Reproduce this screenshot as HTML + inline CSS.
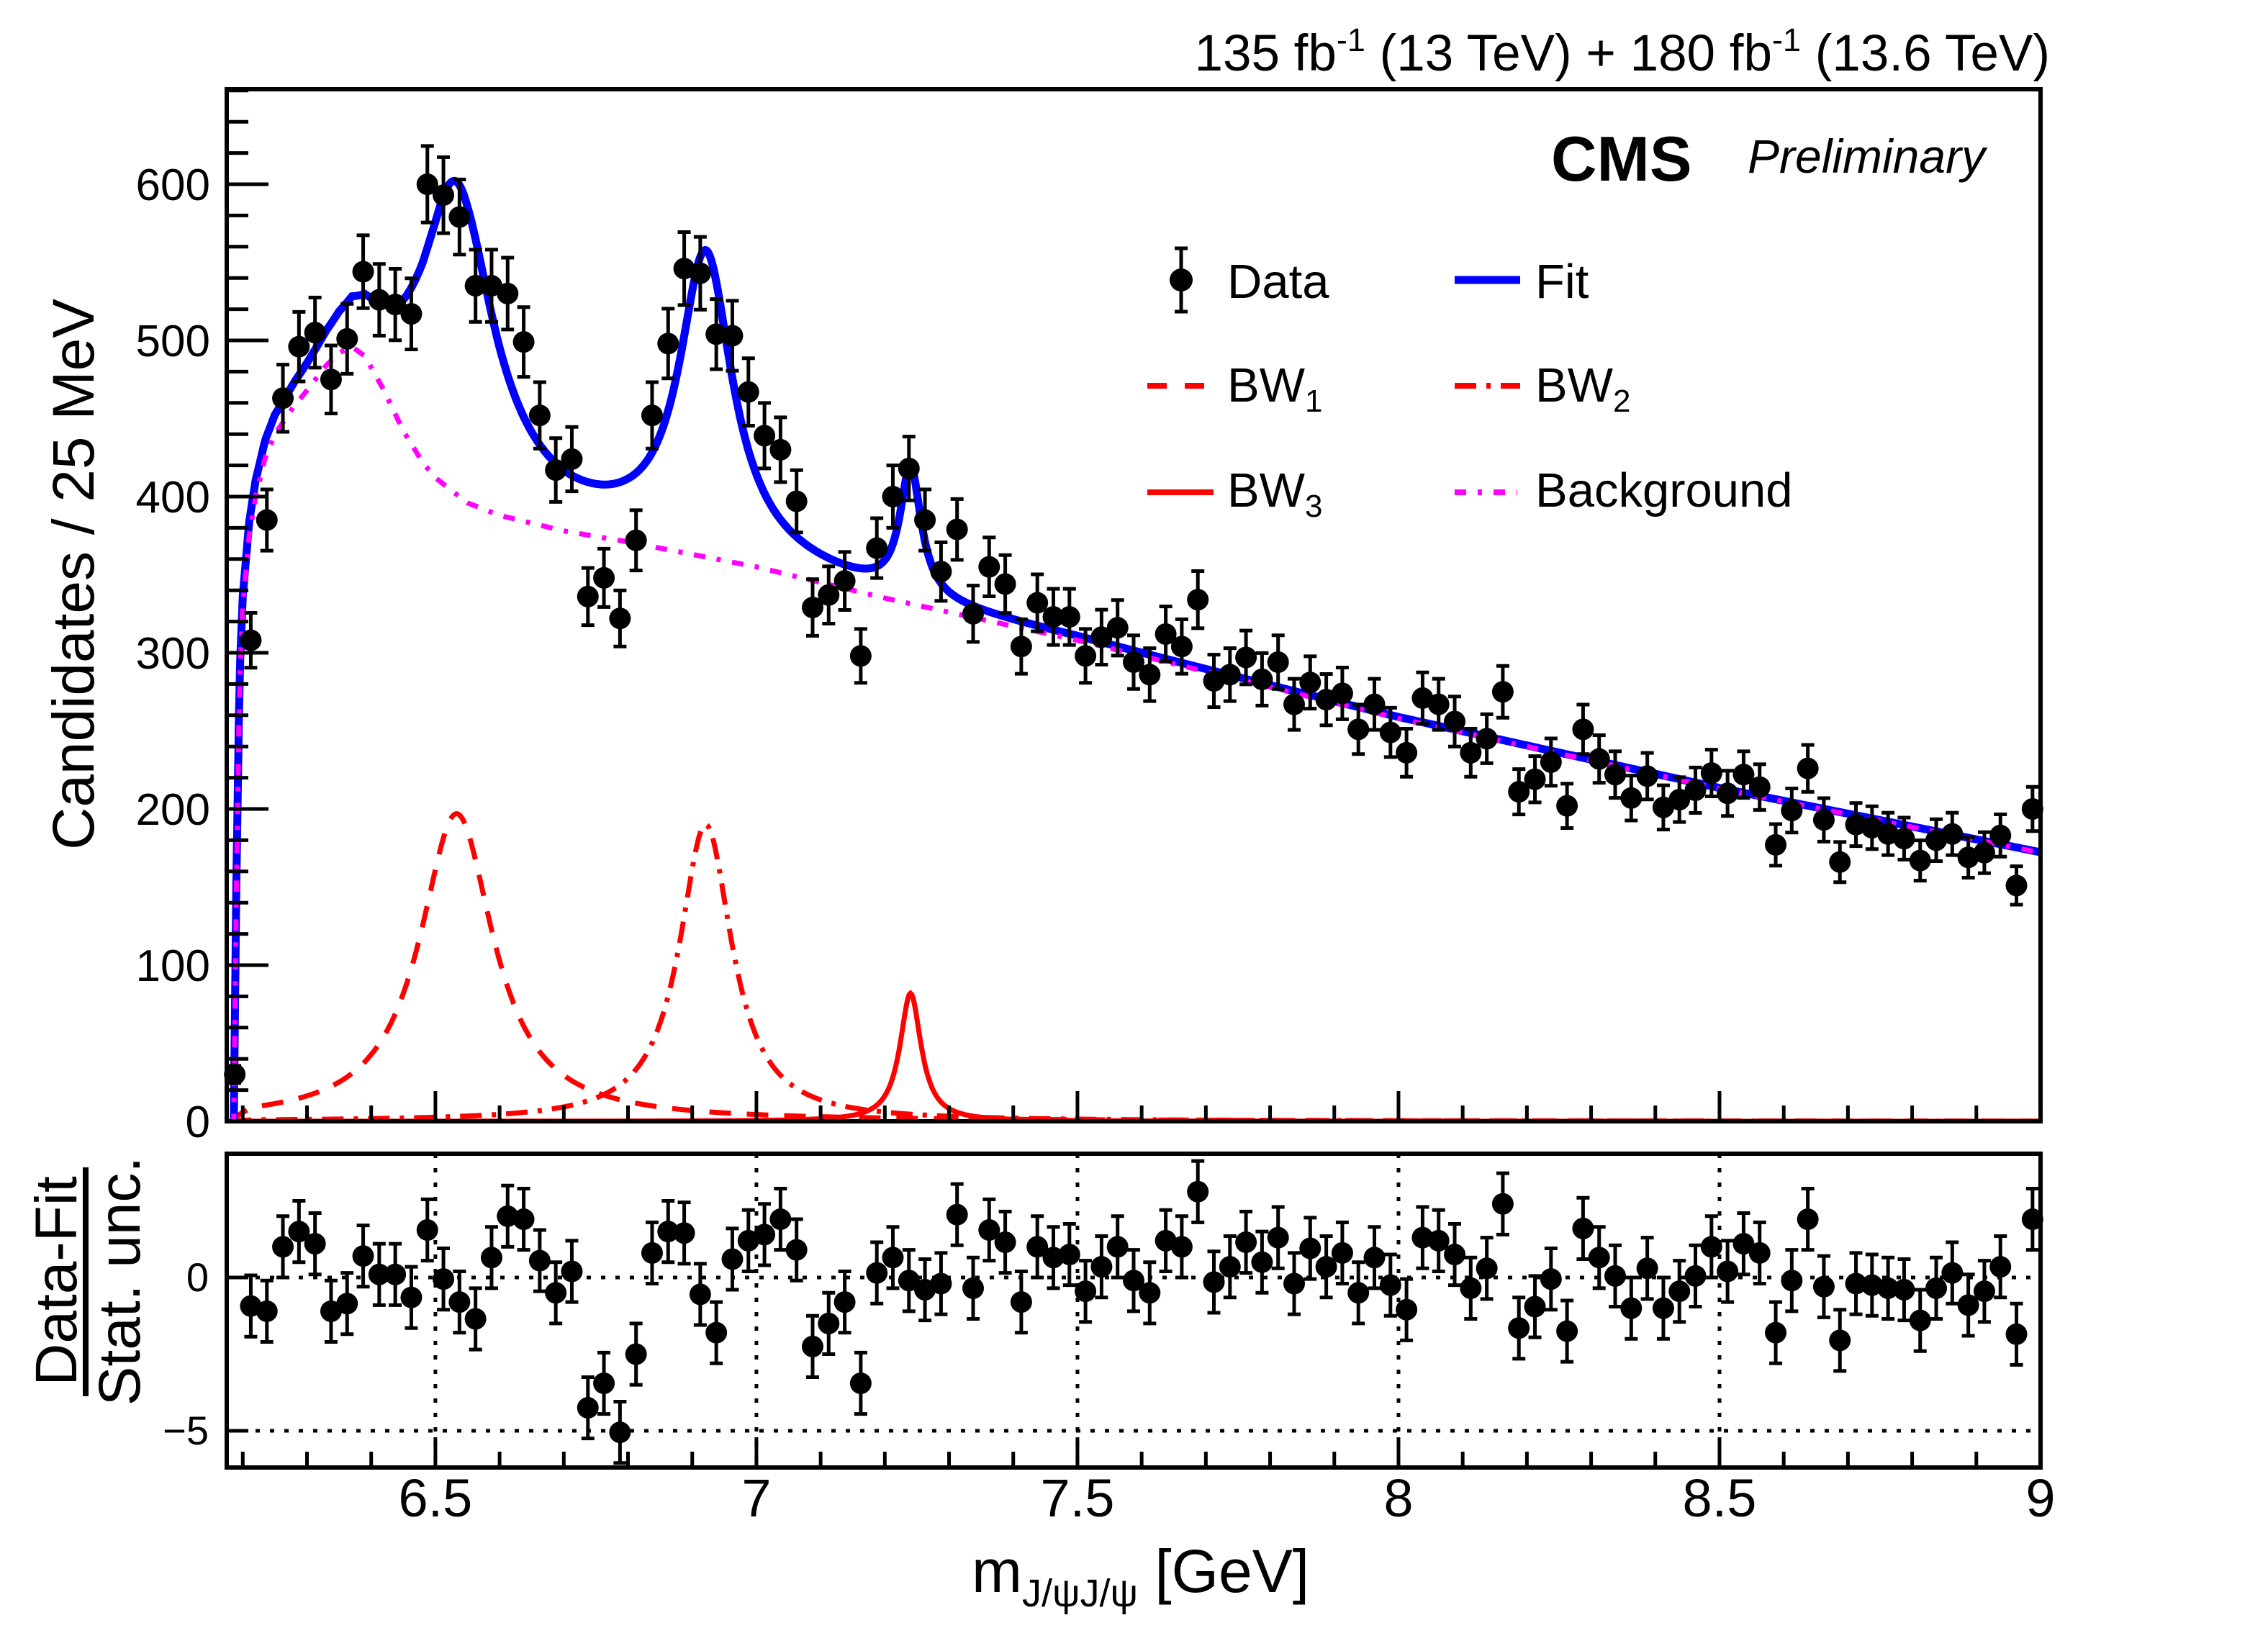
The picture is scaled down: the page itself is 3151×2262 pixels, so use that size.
<!DOCTYPE html>
<html><head><meta charset="utf-8"><style>
html,body{margin:0;padding:0;background:#fff;}
svg{display:block;font-family:"Liberation Sans",Arial,sans-serif;}
</style></head><body>
<svg id="chart" xmlns="http://www.w3.org/2000/svg" width="3151" height="2262" viewBox="0 0 3151 2262">
<rect x="0" y="0" width="3151" height="2262" fill="#fff"/>
<g id="main"></g>
<g id="ratio"></g>
<text x="2848" y="98" text-anchor="end" font-size="71">135 fb<tspan dy="-27" font-size="45">-1</tspan><tspan dy="27"> (13 TeV) + 180 fb</tspan><tspan dy="-27" font-size="45">-1</tspan><tspan dy="27"> (13.6 TeV)</tspan></text>
<text x="2155" y="251" font-size="88" font-weight="bold">CMS</text>
<text x="2428" y="240" font-size="66" font-style="italic">Preliminary</text>
<text transform="translate(130,798) rotate(-90)" text-anchor="middle" font-size="82">Candidates / 25 MeV</text>
<g>
<text transform="translate(106,1780) rotate(-90)" text-anchor="middle" font-size="82">Data-Fit</text>
<line x1="119" y1="1622" x2="119" y2="1940" stroke="#000" stroke-width="8"/>
<text transform="translate(194,1780) rotate(-90)" text-anchor="middle" font-size="82">Stat. unc.</text>
</g>
<text x="1350" y="2212" font-size="84">m<tspan dy="20" font-size="54">J/ψJ/ψ</tspan><tspan dy="-20"> [GeV]</tspan></text>
<g id="legend">
<g>
<line x1="1641" y1="345" x2="1641" y2="433" stroke="#000" stroke-width="5"/>
<line x1="1632" y1="345" x2="1650" y2="345" stroke="#000" stroke-width="5"/>
<line x1="1632" y1="433" x2="1650" y2="433" stroke="#000" stroke-width="5"/>
<circle cx="1641" cy="389" r="16" fill="#000"/>
<text x="1705" y="414" font-size="67">Data</text></g>
<g>
<line x1="2021" y1="389" x2="2112" y2="389" stroke="#0000ff" stroke-width="11"/>
<text x="2133" y="414" font-size="67">Fit</text></g>
<g>
<line x1="1594" y1="536" x2="1679" y2="536" stroke="#ff0000" stroke-width="8" stroke-dasharray="27 25"/>
<text x="1705" y="558" font-size="67">BW<tspan dy="14" font-size="44">1</tspan></text></g>
<g>
<line x1="2021" y1="536" x2="2112" y2="536" stroke="#ff0000" stroke-width="8" stroke-dasharray="30 14 6 14"/>
<text x="2133" y="558" font-size="67">BW<tspan dy="14" font-size="44">2</tspan></text></g>
<g>
<line x1="1594" y1="684" x2="1686" y2="684" stroke="#ff0000" stroke-width="8"/>
<text x="1705" y="704" font-size="67">BW<tspan dy="14" font-size="44">3</tspan></text></g>
<g>
<line x1="2021" y1="684" x2="2108" y2="684" stroke="#ff00ff" stroke-width="8" stroke-dasharray="16 16 6 16"/>
<text x="2133" y="704" font-size="67">Background</text></g>
</g>
</svg>
<script>
// ---- data ----
const binStart = 6.175;
const binWidth = 0.025;
const counts = [30,308,385,463,496,505,475,501,544,526,523,517,600,593,579,535,535,530,499,452,417,424,336,348,322,372,452,498,546,543,504,503,467,439,430,397,329,337,346,298,367,400,418,385,352,379,325,355,344,304,332,323,323,298,310,316,294,286,312,304,334,282,286,297,283,294,267,281,270,274,251,267,249,236,271,267,256,236,245,275,211,219,230,202,251,232,222,207,221,201,206,212,223,210,222,214,177,199,226,193,166,190,188,184,181,167,180,184,169,172,183,151,200];
const pulls = [null,-0.93,-1.1,1.0,1.5,1.1,-1.1,-0.85,0.7,0.1,0.1,-0.65,1.55,-0.05,-0.8,-1.35,0.65,2.0,1.9,0.55,-0.5,0.2,-4.25,-3.45,-5.05,-2.5,0.8,1.5,1.45,-0.55,-1.8,0.6,1.2,1.4,1.9,0.9,-2.25,-1.5,-0.8,-3.45,0.15,0.65,-0.1,-0.4,-0.2,2.05,-0.35,1.55,1.15,-0.8,1.0,0.65,0.75,-0.45,0.35,1.0,-0.1,-0.5,1.2,1.0,2.8,-0.15,0.35,1.15,0.5,1.3,-0.2,0.95,0.35,0.8,-0.5,0.65,-0.25,-1.05,1.3,1.2,0.75,-0.35,0.3,2.4,-1.65,-0.95,-0.05,-1.75,1.6,0.65,0.05,-1.0,0.3,-1.0,-0.45,0.05,1.0,0.2,1.1,0.8,-1.8,-0.1,1.9,-0.3,-2.05,-0.2,-0.25,-0.35,-0.4,-1.4,-0.35,0.15,-0.9,-0.45,0.35,-1.85,1.9];
const bgMass = [6.186,6.19,6.195,6.2,6.21,6.22,6.235,6.25,6.28,6.3,6.33,6.35,6.37,6.39,6.42,6.45,6.48,6.5,6.55,6.6,6.7,6.8,7.0,7.2,7.5,8.0,8.5,9.0];
const bgVal  = [0,150,280,330,375,400,425,440,458,468,484,492,496,490,468,442,422,412,396,388,378,371,355,335,308,258,213,172];
const bwMass  = [6.533, 6.921, 7.240];
const bwWidth = [0.14, 0.10, 0.04];
const bwPeak  = [197, 190, 82];
const yTicks = [0,100,200,300,400,500,600];
const xTicks = [6.5,7,7.5,8,8.5,9];
const xTickLabels = ["6.5","7","7.5","8","8.5","9"];
const rTicks = [0,-5];
const rTickLabels = ["0","\u22125"];

// ---- axes ----
const XL=315, XR=2835, MT=124, MB=1558, RT=1603, RB=2039;
const xMin=6.175, xMax=9.0;
function X(m){return XL+(m-xMin)/(xMax-xMin)*(XR-XL);}
function Y(v){return MB - v*(MB-256)/600;}
function R(p){return 1775 - p*42.6;}
const NS="http://www.w3.org/2000/svg";
function el(tag,attrs,parent){const e=document.createElementNS(NS,tag);for(const k in attrs)e.setAttribute(k,attrs[k]);parent.appendChild(e);return e;}
const main=document.getElementById('main'), ratio=document.getElementById('ratio');

function bg(m){ if(m<bgMass[0])return 0; for(let i=1;i<bgMass.length;i++){ if(m<=bgMass[i]){const t=(m-bgMass[i-1])/(bgMass[i]-bgMass[i-1]);return bgVal[i-1]+t*(bgVal[i]-bgVal[i-1]);} } return bgVal[bgVal.length-1]; }
function bw(k,m){ if(m<6.186)return 0; const g=bwWidth[k]/2; const d=(m-bwMass[k])/g; const thr=Math.min(1,Math.sqrt((m-6.186)/0.03)); return bwPeak[k]/(1+d*d)*thr; }
function fit(m){ return bg(m)+bw(0,m)+bw(1,m)+bw(2,m); }

const defs=el('defs',{},main);
const cp=el('clipPath',{id:'clipMain'},defs);
el('rect',{x:XL,y:MT,width:XR-XL,height:MB-MT},cp);

function curve(f,attrs,name){
  let d=''; for(let m=6.18;m<=9.0001;m+=0.002){d+=(d?'L':'M')+X(m).toFixed(1)+','+Y(f(m)).toFixed(1);}
  const p=el('path',Object.assign({d:d,fill:'none','clip-path':'url(#clipMain)'},attrs),main);
  
  
}
curve(m=>bw(0,m),{stroke:'#ff0000','stroke-width':7,'stroke-dasharray':'30 22'},'bw1-curve');
curve(m=>bw(1,m),{stroke:'#ff0000','stroke-width':7,'stroke-dasharray':'30 14 6 14'},'bw2-curve');
curve(m=>bw(2,m),{stroke:'#ff0000','stroke-width':7},'bw3-curve');
curve(fit,{stroke:'#0000ff','stroke-width':11},'fit-curve');
curve(bg,{stroke:'#ff00ff','stroke-width':7,'stroke-dasharray':'16 16 6 16'},'background-curve');

counts.forEach((c,i)=>{
  const m=binStart+binWidth*(i+0.5), x=X(m), e=Math.sqrt(c);
  const g=el('g',{},main);
  
  
  const y1=Math.min(Y(c-e),MB), y2=Y(c+e);
  el('line',{x1:x,y1:y1,x2:x,y2:y2,stroke:'#000','stroke-width':5},g);
  el('line',{x1:x-9,y1:y1,x2:x+9,y2:y1,stroke:'#000','stroke-width':5},g);
  el('line',{x1:x-9,y1:y2,x2:x+9,y2:y2,stroke:'#000','stroke-width':5},g);
  el('circle',{cx:x,cy:Y(c),r:15,fill:'#000'},g);
});

const frame=el('rect',{x:XL,y:MT,width:XR-XL,height:MB-MT,fill:'none',stroke:'#000','stroke-width':6},main);


for(let v=0;v<=660;v+=20){ const major=(v%100===0); el('line',{x1:XL,y1:Y(v),x2:XL+(major?58:30),y2:Y(v),stroke:'#000','stroke-width':5},main); }
yTicks.forEach(v=>{ const t=el('text',{x:292,y:Y(v)+22,'text-anchor':'end','font-size':62},main); t.textContent=String(v);
  
   });
function xticks(bottom,parent){ for(let k=62;k<=90;k++){ const m=k/10; const major=(k%5===0); el('line',{x1:X(m),y1:bottom,x2:X(m),y2:bottom-(major?42:22),stroke:'#000','stroke-width':5},parent);} }
xticks(MB,main);

xTicks.forEach(m=>{ if(m<9) el('line',{x1:X(m),y1:RT,x2:X(m),y2:RB,stroke:'#000','stroke-width':5,'stroke-dasharray':'6 14'},ratio); });
rTicks.forEach(p=>{ el('line',{x1:XL,y1:R(p),x2:XR,y2:R(p),stroke:'#000','stroke-width':5,'stroke-dasharray':'6 14'},ratio); });
pulls.forEach((p,i)=>{
  if(p===null) return;
  const m=binStart+binWidth*(i+0.5), x=X(m);
  const g=el('g',{},ratio);
  
  
  const y1=R(p-1), y2=R(p+1);
  el('line',{x1:x,y1:y1,x2:x,y2:y2,stroke:'#000','stroke-width':5},g);
  el('line',{x1:x-9,y1:y1,x2:x+9,y2:y1,stroke:'#000','stroke-width':5},g);
  el('line',{x1:x-9,y1:y2,x2:x+9,y2:y2,stroke:'#000','stroke-width':5},g);
  el('circle',{cx:x,cy:R(p),r:15,fill:'#000'},g);
});
const rframe=el('rect',{x:XL,y:RT,width:XR-XL,height:RB-RT,fill:'none',stroke:'#000','stroke-width':6},ratio);


xticks(RB,ratio);
rTicks.forEach((p,i)=>{ el('line',{x1:XL,y1:R(p),x2:XL+30,y2:R(p),stroke:'#000','stroke-width':5},ratio);
  const t=el('text',{x:290,y:R(p)+19,'text-anchor':'end','font-size':56},ratio); t.textContent=rTickLabels[i];
  
   });
xTicks.forEach((m,i)=>{ const t=el('text',{x:X(m),y:2107,'text-anchor':'middle','font-size':74},ratio); t.textContent=xTickLabels[i];
  
   });
</script>
</body></html>
